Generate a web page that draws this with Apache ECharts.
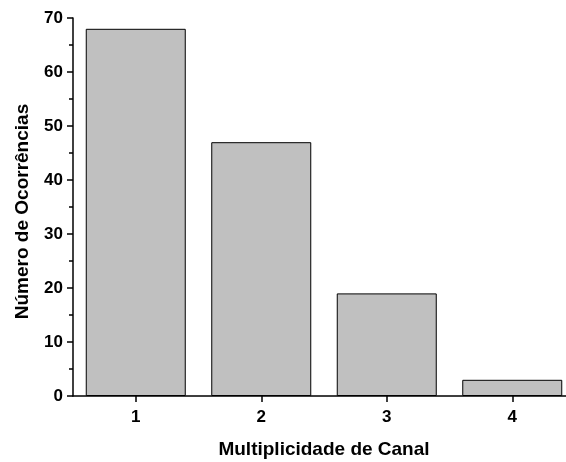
<!DOCTYPE html>
<html>
<head>
<meta charset="utf-8">
<script src="https://cdn.jsdelivr.net/npm/echarts@6/dist/echarts.min.js"></script>
<style>
html,body{margin:0;padding:0;background:#fff;}
#chart{width:566px;height:462px;}
</style>
</head>
<body>
<div id="chart"></div>
<script>
var categories = ['1', '2', '3', '4'];
var occurrences = [68, 47, 19, 3];
var xTitle = 'Multiplicidade de Canal';
var yTitle = 'Número de Ocorrências';

var chart = echarts.init(document.getElementById('chart'), null, {renderer: 'canvas'});
var font = 'Liberation Sans, Arial, sans-serif';
chart.setOption({
  animation: false,
  backgroundColor: '#ffffff',
  grid: {left: 73, top: 18, width: 502, height: 378, containLabel: false, outerBoundsMode: 'none'},
  xAxis: {
    type: 'category',
    data: categories,
    boundaryGap: true,
    name: xTitle,
    nameLocation: 'middle',
    nameGap: 44,
    nameTextStyle: {fontFamily: font, fontWeight: 'bold', fontSize: 19, color: '#000'},
    axisLine: {show: true, lineStyle: {color: '#000', width: 1.5}},
    axisTick: {show: true, alignWithLabel: true, inside: false, length: 6, lineStyle: {color: '#000', width: 1.5}},
    axisLabel: {fontFamily: font, fontWeight: 'bold', fontSize: 17, color: '#000', margin: 13},
    splitLine: {show: false}
  },
  yAxis: {
    type: 'value',
    min: 0, max: 70, interval: 10,
    name: yTitle,
    nameLocation: 'middle',
    nameGap: 41,
    nameTextStyle: {fontFamily: font, fontWeight: 'bold', fontSize: 19, color: '#000', padding: [0, 9, 0, 0]},
    axisLine: {show: true, lineStyle: {color: '#000', width: 1.5}},
    axisTick: {show: true, inside: false, length: 6, lineStyle: {color: '#000', width: 1.5}},
    minorTick: {show: true, splitNumber: 2, length: 4, lineStyle: {color: '#000', width: 1.5}},
    axisLabel: {fontFamily: font, fontWeight: 'bold', fontSize: 17, color: '#000', margin: 10},
    splitLine: {show: false}
  },
  series: [{
    type: 'bar',
    data: occurrences,
    barWidth: 100,
    itemStyle: {color: '#c0c0c0', borderColor: '#000', borderWidth: 1}
  }]
});
</script>
</body>
</html>
